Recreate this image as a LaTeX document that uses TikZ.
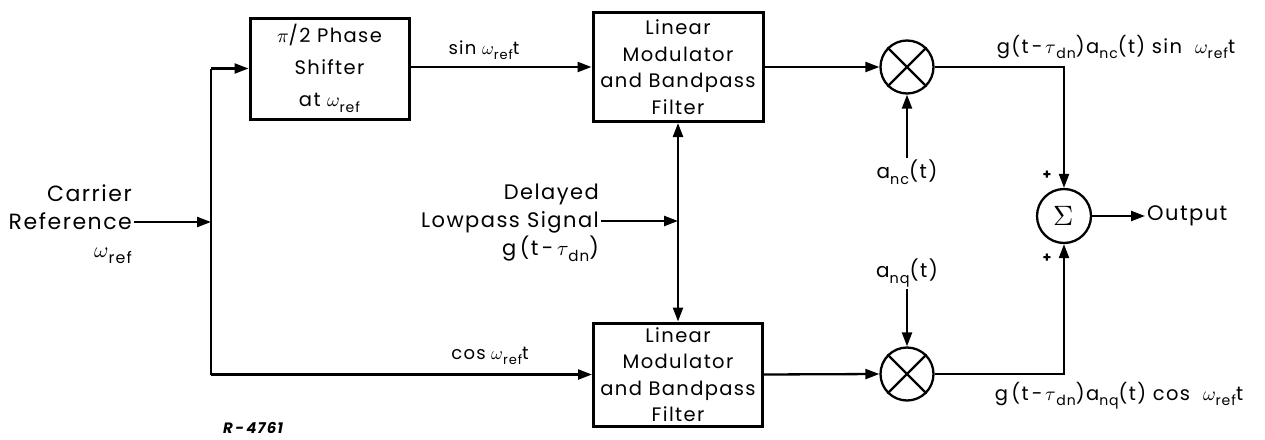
\documentclass[tikz,border=0pt]{standalone}
\usepackage{fontspec}
\usepackage{unicode-math}
\setmainfont{Poppins}[LetterSpace=7]
\setmathfont{Latin Modern Math}
\usetikzlibrary{arrows.meta}
\makeatletter
\newcommand\sbx[1]{\raisebox{-0.5ex}{\fontsize{\fpeval{0.72*\f@size}}{1}\selectfont #1}}
\makeatother
\newcommand\wref{$\omega$\sbx{ref}}
\begin{document}
\begin{tikzpicture}[x=1pt,y=-1pt,
  font=\fontsize{18}{22}\selectfont,
  every path/.style={line width=2.3pt},
  arr/.style={-{Triangle[length=14pt,width=10pt]}},
  darr/.style={{Triangle[length=14pt,width=10pt]}-{Triangle[length=14pt,width=10pt]}},
  blk/.style={draw,line width=3pt,rectangle,inner sep=0pt,align=center,font=\fontsize{19.5}{26.5}\selectfont},
  mult/.style={draw,circle,minimum size=53pt,inner sep=0pt,line width=2.3pt},
  lbl/.style={inner sep=1pt}]
\useasboundingbox (0,0) rectangle (1265,439);
% blocks
\node[blk,minimum width=159pt,minimum height=101pt,font=\fontsize{19.5}{32}\selectfont] (ps) at (329.5,68.5) {$\pi$/2 Phase\\Shifter\\at \wref};
\node[blk,minimum width=170pt,minimum height=109pt] (lm1) at (678,67) {Linear\\Modulator\\and Bandpass\\Filter};
\node[blk,minimum width=169pt,minimum height=103pt] (lm2) at (678,374.5) {Linear\\Modulator\\and Bandpass\\Filter};
\node[mult] (m1) at (907,67) {};
\node[mult] (m2) at (907,374) {};
\draw (m1.north west) -- (m1.south east) (m1.north east) -- (m1.south west);
\draw (m2.north west) -- (m2.south east) (m2.north east) -- (m2.south west);
\node[mult,minimum size=54pt,font=\fontsize{28}{28}\selectfont] (sum) at (1064,216) {$\symup{\Sigma}$};
% texts
\node[lbl,align=right,anchor=east,font=\fontsize{22}{28}\selectfont] (car) at (134,224) {Carrier\\Reference\\\wref};
\coordinate (j) at (211,222);
\coordinate (jt) at (211,68.5);
\coordinate (jb) at (211,374.5);
\node[lbl,align=right,anchor=east,font=\fontsize{21}{28}\selectfont] (del) at (601,223) {Delayed\\Lowpass Signal\\g\,(t\,-\,$\tau$\sbx{dn})};
\coordinate (dj) at (678,221);
\node[lbl] (sin) at (484,50) {sin \wref t};
\node[lbl] (cos) at (490,356) {cos \wref t};
\node[lbl,font=\fontsize{20}{22}\selectfont] (anc) at (907,172) {a\sbx{nc}(t)};
\node[lbl,font=\fontsize{20}{22}\selectfont] (anq) at (907,273) {a\sbx{nq}(t)};
\node[lbl,font=\fontsize{19.5}{22}\selectfont] (topo) at (1116,47) {g(t\,-\,$\tau$\sbx{dn})a\sbx{nc}(t) sin \ \wref t};
\node[lbl,font=\fontsize{19.5}{22}\selectfont] (boto) at (1119,396) {g\,(t\,-\,$\tau$\sbx{dn})a\sbx{nq}(t) cos \ \wref t};
\node[lbl,font=\fontsize{14}{14}\selectfont\bfseries] (p1) at (1047,175) {+};
\node[lbl,font=\fontsize{14}{14}\selectfont\bfseries] (p2) at (1047,258) {+};
\node[lbl,anchor=west,font=\fontsize{21}{22}\selectfont] (out) at (1145,216) {Output};
\node[lbl,font=\fontsize{15}{15}\selectfont\bfseries\itshape] (rn) at (253,428) {R\,-\,4761};
% connectors
\draw[arr] (car.east |- j) -- (j);
\draw (jb) -- (jt);
\draw[arr] (jt) -- (ps.west |- jt);
\draw[arr] (ps.east |- lm1.west) -- (lm1.west);
\draw[arr] (jb) -- (lm2.west);
\draw[darr] (lm1.south) -- (lm2.north);
\draw[arr] (del.east |- dj) -- (dj);
\draw[arr] (lm1.east) -- (m1.west);
\draw[arr] (lm2.east) -- (m2.west);
\draw[arr] (anc.north) -- (m1.south);
\draw[arr] (anq.south) -- (m2.north);
\draw[arr] (m1.east) -| (sum.north);
\draw[arr] (m2.east) -| (sum.south);
\draw[arr] (sum.east) -- (out.west);
\end{tikzpicture}
\end{document}
